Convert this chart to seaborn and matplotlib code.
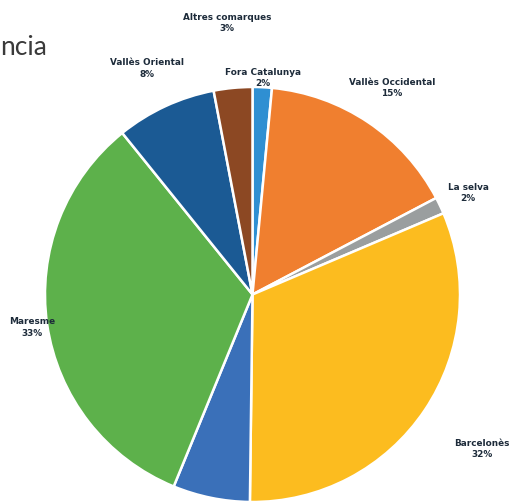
import numpy as np
import matplotlib
matplotlib.use("Agg")
import matplotlib.pyplot as plt
import seaborn as sns

# Data (clockwise from 12 o'clock)
categories = ["Fora Catalunya", "Vallès Occidental", "La selva", "Barcelonès",
              "", "Maresme", "Vallès Oriental", "Altres comarques"]
values = [1.5, 15.8, 1.3, 31.6, 6.0, 33.0, 7.8, 3.0]
pct_labels = ["2%", "15%", "2%", "32%", "", "33%", "8%", "3%"]
colors = ["#2F8FD2", "#F07F2F", "#9A9E9F", "#FCBC1F", "#3A70B9", "#5DB14B", "#1B5A94", "#8C4823"]
label_radius = [1.05, 1.205, 1.15, 1.33, 0, 1.075, 1.205, 1.32]
title_fragment = "ncia"

sns.set_theme(style="white")
plt.rcParams['font.family'] = ['DejaVu Sans']

W, H = 510, 502
fig = plt.figure(figsize=(W / 100, H / 100), dpi=100)
ax = fig.add_axes([0, 0, 1, 1])

wedges, _ = ax.pie(values, colors=colors, startangle=90, counterclock=False,
                   radius=1, wedgeprops=dict(edgecolor="white", linewidth=1.8))

scale = 207.5
cx, cy = 252.5, 295.5
ax.set_xlim(-cx / scale, (W - cx) / scale)
ax.set_ylim(-(H - cy) / scale, cy / scale)
ax.set_aspect('auto')
ax.axis('off')

for w, cat, pl, r in zip(wedges, categories, pct_labels, label_radius):
    if not cat:
        continue
    th = np.deg2rad((w.theta1 + w.theta2) / 2)
    ax.text(r * np.cos(th), r * np.sin(th), f"{cat}\n{pl}", ha="center", va="center",
            fontsize=6.4, fontweight="bold", color="#1d2b3a", linespacing=1.35)

fig.text(0.5 / W, 1 - 55 / H, title_fragment, ha="left", va="baseline",
         fontsize=19, color="#3a3a3a", family=["Lato", "DejaVu Sans"])

fig.savefig("out.png", dpi=100)
